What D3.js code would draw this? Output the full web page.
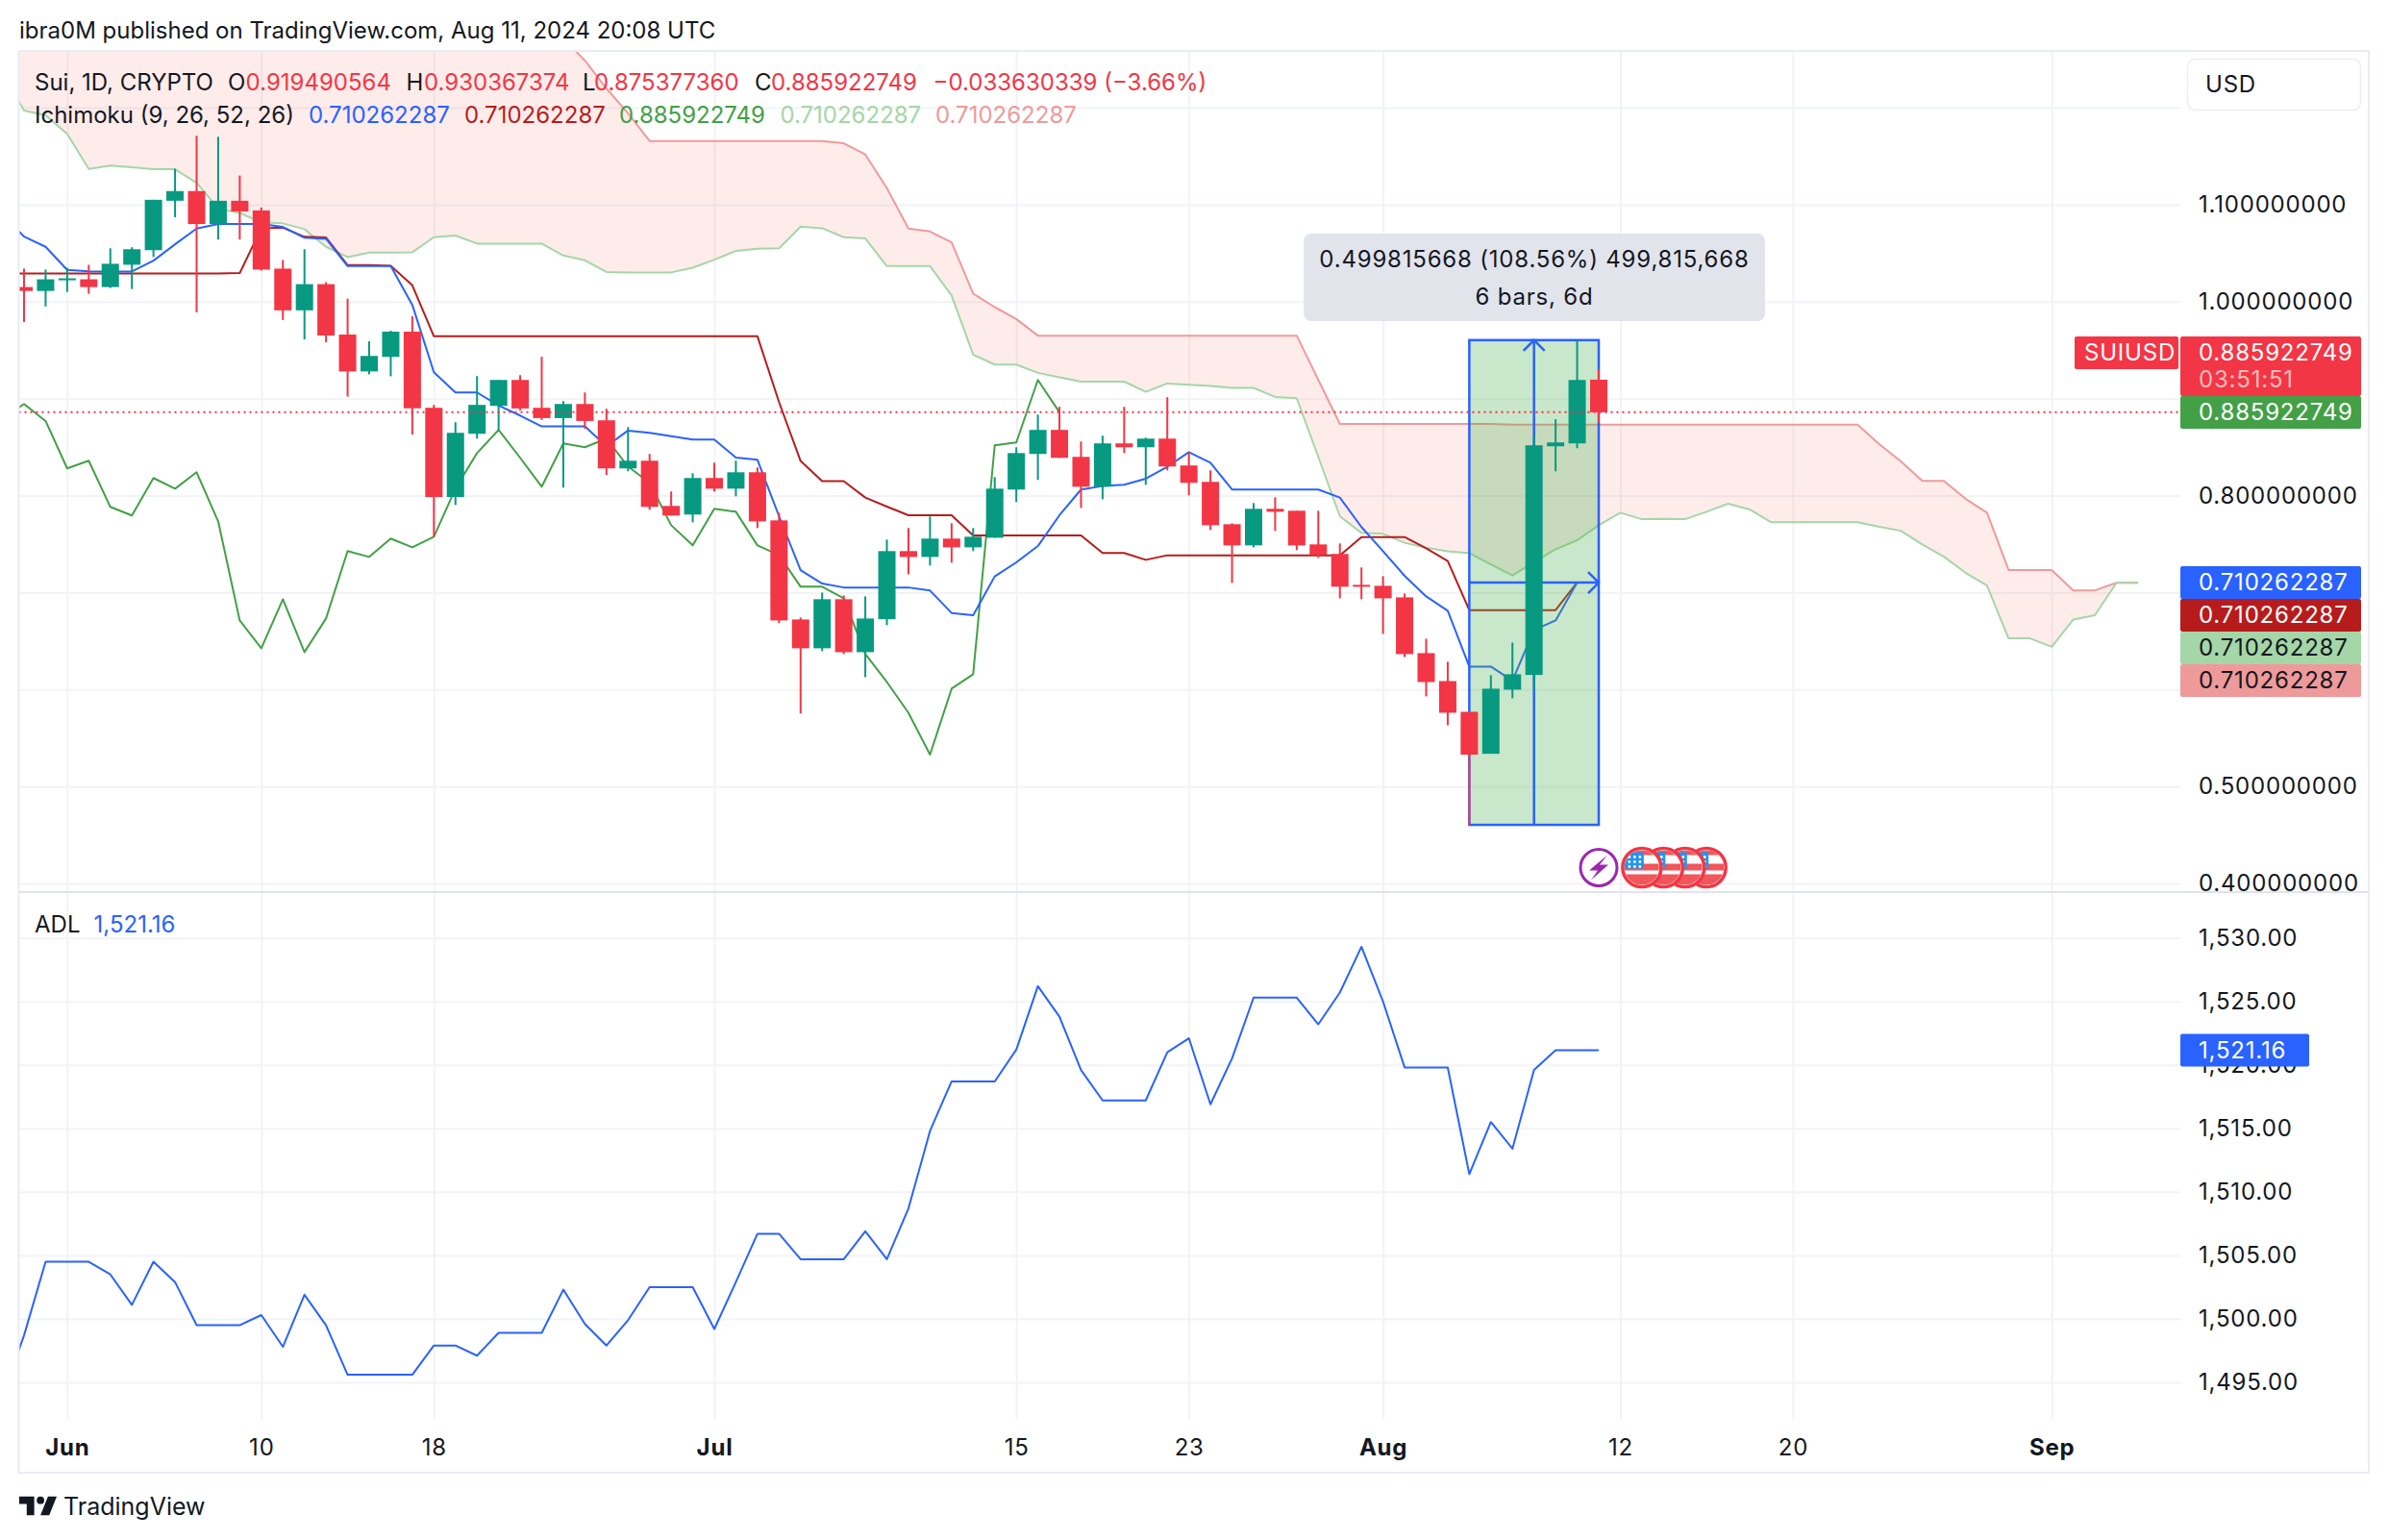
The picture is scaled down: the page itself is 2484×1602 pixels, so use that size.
<!DOCTYPE html>
<html>
<head>
<meta charset="utf-8">
<title>SUIUSD Ichimoku ADL</title>
<script src="https://cdn.jsdelivr.net/npm/d3@7"></script>
<style>
  html, body { margin: 0; padding: 0; background: #fff; }
  svg { display: block; }
  text { font-family: Inter, "Noto Sans", sans-serif; fill: #131722; }
  .axis-label { font-size: 24px; letter-spacing: 0.8px; }
  .legend { font-size: 24px; }
</style>
</head>
<body>
<svg id="chart" width="2484" height="1602"></svg>
<script>
// Candles, one per day, first one is May 30 (bar index 0), last is Aug 11 (bar index 73)
const opens = [1.015,1.011,1.022,1.023,1.015,1.038,1.053,1.104,1.114,1.080,1.104,1.094,1.034,0.991,1.018,0.966,0.928,0.943,0.969,0.8905,
  0.7985,0.8637,0.8925,0.9192,0.8905,0.8799,0.8944,0.8776,0.8280,0.8359,0.7893,0.7804,0.8181,0.8071,0.8240,0.7744,0.6722,0.6425,0.6931,0.6385,
  0.6725,0.7427,0.7367,0.7556,0.7466,0.7565,0.8062,0.8429,0.8677,0.8399,0.8091,0.8538,0.8498,0.8587,0.8310,0.8141,0.7704,0.7486,0.7863,0.7843,
  0.7496,0.7397,0.7079,0.7069,0.6950,0.6375,0.6087,0.5770,0.5337,0.5998,0.6150,0.8508,0.8538,0.9195];
const highs = [1.034,1.033,1.035,1.038,1.055,1.056,1.105,1.137,1.171,1.170,1.130,1.097,1.043,1.054,1.020,1.003,0.959,0.970,0.985,0.8935,
  0.8756,0.9232,0.9192,0.9242,0.9431,0.8974,0.9063,0.8895,0.8706,0.8429,0.8042,0.8230,0.8339,0.8359,0.8290,0.7823,0.6742,0.7000,0.6970,0.6960,
  0.7546,0.7665,0.7784,0.7714,0.7665,0.8190,0.8498,0.8835,0.8915,0.8558,0.8617,0.8915,0.8597,0.9014,0.8448,0.8260,0.7714,0.7923,0.7982,0.7843,
  0.7843,0.7506,0.7258,0.7169,0.6990,0.6524,0.6286,0.5770,0.6147,0.6484,0.8617,0.8786,0.9603,0.9304];
const lows = [0.979,0.995,1.010,1.008,1.014,1.013,1.046,1.087,0.989,1.064,1.064,1.032,0.981,0.961,0.958,0.902,0.925,0.923,0.863,0.7578,
  0.7903,0.8587,0.8677,0.8878,0.8779,0.8081,0.8690,0.8213,0.8250,0.7853,0.7794,0.7724,0.8042,0.7992,0.7665,0.6683,0.5753,0.6395,0.6365,0.6127,
  0.6663,0.7188,0.7278,0.7308,0.7427,0.7565,0.7933,0.8161,0.8389,0.7873,0.7962,0.8438,0.8111,0.8260,0.8002,0.7645,0.7099,0.7466,0.7635,0.7437,
  0.7357,0.6940,0.6931,0.6573,0.6335,0.5929,0.5631,0.4604,0.5337,0.5909,0.5998,0.8250,0.8488,0.8754];
const closes = [1.011,1.023,1.024,1.015,1.039,1.054,1.105,1.114,1.080,1.104,1.093,1.033,0.991,1.018,0.965,0.928,0.944,0.969,0.890,0.7985,
  0.8647,0.8935,0.9192,0.8898,0.8799,0.8944,0.8769,0.8280,0.8359,0.7883,0.7794,0.8181,0.8071,0.8240,0.7734,0.6712,0.6425,0.6931,0.6385,0.6732,
  0.7427,0.7367,0.7556,0.7466,0.7575,0.8071,0.8438,0.8677,0.8389,0.8091,0.8538,0.8498,0.8587,0.8300,0.8131,0.7694,0.7486,0.7863,0.7833,0.7486,
  0.7387,0.7060,0.7060,0.6940,0.6365,0.6077,0.5760,0.5328,0.6008,0.6157,0.8518,0.8548,0.9192,0.8859];

// Ichimoku lines, all start one bar before the candles (bar index -1, May 29)
const tenkan = [1.0889,1.0671,1.0565,1.0327,1.0313,1.0311,1.0311,1.0423,1.0591,1.0753,1.0800,1.0800,1.0800,1.0770,1.0658,1.0648,1.0366,1.0366,1.0366,0.9966,
  0.9272,0.9063,0.9063,0.8928,0.8825,0.8713,0.8713,0.8713,0.8508,0.8670,0.8647,0.8612,0.8577,0.8577,0.8392,0.8369,0.7787,0.7231,0.7092,0.7052,
  0.7052,0.7052,0.7052,0.7020,0.6789,0.6765,0.7166,0.7311,0.7479,0.7797,0.8062,0.8098,0.8111,0.8174,0.8297,0.8448,0.8339,0.8062,0.8062,0.8062,
  0.8062,0.8062,0.7979,0.7675,0.7427,0.7172,0.6960,0.6812,0.6236,0.6236,0.6090,0.6613,0.6712,0.7103,0.7103];
const kijun = [1.0291,1.0291,1.0291,1.0291,1.0291,1.0291,1.0291,1.0291,1.0291,1.0291,1.0291,1.0294,1.0757,1.0763,1.0668,1.0661,1.0376,1.0376,1.0370,1.0168,
  0.9642,0.9642,0.9642,0.9642,0.9642,0.9642,0.9642,0.9642,0.9642,0.9642,0.9642,0.9642,0.9642,0.9642,0.9642,0.9642,0.8964,0.8356,0.8148,0.8148,
  0.7979,0.7886,0.7797,0.7797,0.7797,0.7588,0.7588,0.7588,0.7588,0.7588,0.7588,0.7407,0.7407,0.7337,0.7384,0.7384,0.7384,0.7384,0.7384,0.7384,
  0.7384,0.7384,0.7384,0.7572,0.7572,0.7572,0.7456,0.7324,0.6818,0.6818,0.6818,0.6818,0.6818,0.7103,0.7103];
const chikou = [0.8799,0.8944,0.8769,0.8280,0.8359,0.7883,0.7794,0.8181,0.8071,0.8240,0.7734,0.6712,0.6425,0.6931,0.6385,0.6732,0.7427,0.7367,0.7556,0.7466,
  0.7575,0.8071,0.8438,0.8677,0.8389,0.8091,0.8538,0.8498,0.8587,0.8300,0.8131,0.7694,0.7486,0.7863,0.7833,0.7486,0.7387,0.7060,0.7060,0.6940,
  0.6365,0.6077,0.5760,0.5328,0.6008,0.6157,0.8518,0.8548,0.9192,0.8859];
const spanA = [1.2367,1.1970,1.1920,1.1729,1.1368,1.1402,1.1385,1.1365,1.1365,1.1226,1.0961,1.0912,1.0819,1.0807,1.0747,1.0565,1.0459,1.0505,1.0505,1.0509,
  1.0664,1.0681,1.0598,1.0598,1.0598,1.0598,1.0475,1.0426,1.0306,1.0301,1.0301,1.0301,1.0350,1.0433,1.0522,1.0545,1.0549,1.0773,1.0757,1.0664,
  1.0651,1.0366,1.0366,1.0366,1.0063,0.9453,0.9351,0.9351,0.9265,0.9219,0.9175,0.9175,0.9175,0.9070,0.9156,0.9143,0.9130,0.9110,0.9110,0.9017,
  0.9004,0.8399,0.7787,0.7615,0.7605,0.7513,0.7463,0.7424,0.7407,0.7291,0.7176,0.7314,0.7446,0.7539,0.7694,0.7823,0.7756,0.7760,0.7756,0.7833,
  0.7916,0.7857,0.7724,0.7724,0.7724,0.7724,0.7724,0.7677,0.7637,0.7496,0.7369,0.7204,0.7072,0.6527,0.6527,0.6440,0.6722,0.6766,0.7101,0.7101];
const spanB = [1.2813,1.2813,1.2813,1.2813,1.2813,1.2813,1.2813,1.2813,1.2813,1.2813,1.2813,1.2813,1.2813,1.2813,1.2813,1.2813,1.2813,1.2813,1.2813,1.2813,
  1.2813,1.2813,1.2813,1.2813,1.2813,1.2813,1.2714,1.2486,1.2198,1.1941,1.1656,1.1656,1.1656,1.1656,1.1656,1.1656,1.1656,1.1656,1.1656,1.1633,
  1.1517,1.1170,1.0753,1.0723,1.0611,1.0082,0.9943,0.9820,0.9649,0.9649,0.9649,0.9649,0.9649,0.9649,0.9649,0.9649,0.9649,0.9649,0.9649,0.9649,
  0.9649,0.9192,0.8739,0.8739,0.8739,0.8739,0.8739,0.8739,0.8739,0.8739,0.8730,0.8730,0.8730,0.8730,0.8730,0.8730,0.8730,0.8730,0.8730,0.8730,
  0.8730,0.8730,0.8730,0.8730,0.8730,0.8730,0.8730,0.8531,0.8354,0.8151,0.8151,0.7967,0.7823,0.7232,0.7232,0.7232,0.7022,0.7022,0.7101,0.7101];

// ADL, from bar index -1 as well
const adl = [1493.9,1498.7,1504.5,1504.5,1504.5,1503.5,1501.1,1504.5,1502.9,1499.5,1499.5,1499.5,1500.3,1497.8,1501.9,1499.5,1495.6,1495.6,1495.6,1495.6,
  1497.9,1497.9,1497.1,1498.9,1498.9,1498.9,1502.3,1499.6,1497.9,1499.9,1502.5,1502.5,1502.5,1499.2,1502.9,1506.7,1506.7,1504.7,1504.7,1504.7,
  1506.9,1504.7,1508.7,1514.8,1518.7,1518.7,1518.7,1521.2,1526.2,1523.8,1519.6,1517.2,1517.2,1517.2,1521.0,1522.1,1516.9,1520.5,1525.3,1525.3,
  1525.3,1523.2,1525.7,1529.3,1525.0,1519.8,1519.8,1519.8,1511.4,1515.5,1513.4,1519.6,1521.16,1521.16,1521.16];

const priceTicks = [0.4, 0.5, 0.6, 0.7, 0.8, 0.9, 1.0, 1.1];
const priceGrid = [0.4, 0.5, 0.6, 0.7, 0.8, 0.9, 1.0, 1.1, 1.2];
const adlTicks = [1495, 1500, 1505, 1510, 1515, 1520, 1525, 1530];
const dateTicks = [2, 11, 19, 32, 46, 54, 63, 74, 82, 94];
const dateLabels = ["Jun", "10", "18", "Jul", "15", "23", "Aug", "12", "20", "Sep"];
const monthLabels = ["Jun", "Jul", "Aug", "Sep"];

const lastPrice = 0.885922749, lineValue = 0.710262287, adlLast = 1521.16;
const rangeLow = 0.4604, rangeHigh = 0.9603, rangeFromBar = 67, rangeToBar = 73;
const eventBars = [73, 75, 76, 77, 78];

const RED = "#f23645", GREEN = "#089981", BLUE = "#2962ff", DARK_RED = "#b71c1c", LEAF = "#43a047", LT_GREEN = "#a5d6a7", LT_RED = "#ef9a9a", GRID = "#f2f3f6", BORDER = "#e9ecf2";
const PANE_L = 19.5, PANE_R = 2268, TOP = 54, SEP = 928, BOTTOM = 1476, OUTER_R = 2464, OUTER_B = 1532;

const svg = d3.select("#chart");
const x = d3.scaleLinear().domain([0, 73]).range([25, 1663]);
const y = d3.scaleLinear().domain([0.4, 1.2]).range([919, 112]);
const yAdl = d3.scaleLinear().domain([1495, 1530]).range([1438, 975.7]);

svg.append("rect").attr("width", 2484).attr("height", 1602).attr("fill", "#fff");
const defs = svg.append("defs");
defs.append("clipPath").attr("id", "clip-price").append("rect").attr("x", PANE_L).attr("y", TOP).attr("width", PANE_R - PANE_L).attr("height", SEP - TOP);
defs.append("clipPath").attr("id", "clip-adl").append("rect").attr("x", PANE_L).attr("y", SEP).attr("width", PANE_R - PANE_L).attr("height", BOTTOM - SEP);
defs.append("clipPath").attr("id", "clip-flag").append("circle").attr("r", 18);

// grid, from the axis generators
const gridG = svg.append("g");
gridG.append("g").attr("transform", `translate(0,${BOTTOM})`)
  .call(d3.axisBottom(x).tickValues(dateTicks).tickSize(-(BOTTOM - TOP)).tickFormat(""))
  .call((g) => g.select(".domain").remove())
  .call((g) => g.selectAll("line").attr("stroke", GRID).attr("stroke-width", 2));
gridG.append("g").attr("transform", `translate(${PANE_R},0)`)
  .call(d3.axisLeft(y).tickValues(priceGrid).tickSize(PANE_R - PANE_L).tickFormat(""))
  .call((g) => g.select(".domain").remove())
  .call((g) => g.selectAll("line").attr("stroke", GRID).attr("stroke-width", 2));
gridG.append("g").attr("transform", `translate(${PANE_R},0)`)
  .call(d3.axisLeft(yAdl).tickValues(adlTicks).tickSize(PANE_R - PANE_L).tickFormat(""))
  .call((g) => g.select(".domain").remove())
  .call((g) => g.selectAll("line").attr("stroke", GRID).attr("stroke-width", 2));

// price pane
const price = svg.append("g").attr("clip-path", "url(#clip-price)");
const barOf = (i) => i - 1; // lines start at bar -1
const lineOf = d3.line().x((d, i) => x(barOf(i))).y((d) => y(d));
const area = d3.area().x((d, i) => x(barOf(i))).y0((d) => y(d)).y1((d, i) => y(spanB[i]));

price.append("path").datum(spanA).attr("d", area).attr("fill", "#f44336").attr("fill-opacity", 0.1);
[[spanB, LT_RED], [spanA, LT_GREEN], [chikou, LEAF], [kijun, DARK_RED], [tenkan, BLUE]].forEach(([vals, col]) => {
  price.append("path").datum(vals).attr("d", lineOf).attr("fill", "none").attr("stroke", col).attr("stroke-width", 2).attr("stroke-linejoin", "round");
});

// measure range
const rx0 = x(rangeFromBar), rx1 = x(rangeToBar), ry0 = y(rangeHigh), ry1 = y(rangeLow), rxm = (rx0 + rx1) / 2, rym = y(lineValue);
price.append("rect").attr("x", rx0).attr("y", ry0).attr("width", rx1 - rx0).attr("height", ry1 - ry0)
  .attr("fill", "#4caf50").attr("fill-opacity", 0.3).attr("stroke", BLUE).attr("stroke-width", 2.5);
const arrows = price.append("g").attr("fill", "none").attr("stroke", BLUE).attr("stroke-width", 2.5);
arrows.append("path").attr("d", `M${rxm},${ry1}V${ry0}M${rxm - 11},${ry0 + 11}L${rxm},${ry0}L${rxm + 11},${ry0 + 11}`);
arrows.append("path").attr("d", `M${rx0},${rym}H${rx1}M${rx1 - 11},${rym - 11}L${rx1},${rym}L${rx1 - 11},${rym + 11}`);

// candles
const bars = closes.map((c, i) => ({ i, o: opens[i], h: highs[i], l: lows[i], c }));
const candle = price.append("g").selectAll("g").data(bars).join("g").attr("fill", (d) => d.c >= d.o ? GREEN : RED);
candle.append("rect").attr("x", (d) => x(d.i) - 1).attr("width", 2).attr("y", (d) => y(d.h)).attr("height", (d) => y(d.l) - y(d.h));
candle.append("rect").attr("x", (d) => x(d.i) - 9).attr("width", 18)
  .attr("y", (d) => y(Math.max(d.o, d.c))).attr("height", (d) => Math.max(2, Math.abs(y(d.o) - y(d.c))));

// current price line
svg.append("line").attr("x1", PANE_L).attr("x2", PANE_R - 2).attr("y1", y(lastPrice)).attr("y2", y(lastPrice))
  .attr("stroke", RED).attr("stroke-width", 2).attr("stroke-dasharray", "2,4");

// adl pane
svg.append("g").attr("clip-path", "url(#clip-adl)").append("path").datum(adl)
  .attr("d", d3.line().x((d, i) => x(barOf(i))).y((d) => yAdl(d)))
  .attr("fill", "none").attr("stroke", BLUE).attr("stroke-width", 2).attr("stroke-linejoin", "round");

// events below the candles
const icons = svg.append("g");
const flags = icons.selectAll("g.flag").data(eventBars.slice(1).reverse()).join("g").attr("class", "flag")
  .attr("transform", (d) => `translate(${x(d)},902.5)`);
flags.append("circle").attr("r", 20).attr("fill", "#fff").attr("stroke", RED).attr("stroke-width", 3.5);
const flagIn = flags.append("g").attr("clip-path", "url(#clip-flag)");
[[-18, 5], [-4, 7], [7, 11]].forEach(([yy, h]) => flagIn.append("rect").attr("x", -18).attr("y", yy).attr("width", 36).attr("height", h).attr("fill", "#f0565a"));
flagIn.append("rect").attr("x", -18).attr("y", -16).attr("width", 20).attr("height", 17).attr("fill", "#2196f3");
[-11, -6, -1].forEach((dy) => [-13, -7.5, -2].forEach((dx) => flagIn.append("circle").attr("cx", dx).attr("cy", dy).attr("r", 1.4).attr("fill", "#fff")));
const bolt = icons.append("g").attr("transform", `translate(${x(eventBars[0])},902.5)`);
bolt.append("circle").attr("r", 19).attr("fill", "#fff").attr("stroke", "#9c27b0").attr("stroke-width", 3);
bolt.append("path").attr("d", "M9,-13L-10,3H-1L-8,13L10,-3H1Z").attr("fill", "#9c27b0");

// axes
const fmtPrice = d3.format(".9f");
svg.append("g").attr("transform", "translate(2287,0)")
  .call(d3.axisRight(y).tickValues(priceTicks).tickSize(0).tickPadding(0).tickFormat(fmtPrice))
  .call((g) => g.select(".domain").remove())
  .call((g) => g.selectAll("text").attr("class", "axis-label").attr("font-size", null).attr("font-family", null));
svg.append("g").attr("transform", "translate(2287,0)")
  .call(d3.axisRight(yAdl).tickValues(adlTicks).tickSize(0).tickPadding(0).tickFormat(d3.format(",.2f")))
  .call((g) => g.select(".domain").remove())
  .call((g) => g.selectAll("text").attr("class", "axis-label"));
svg.append("g").attr("transform", `translate(0,${BOTTOM})`)
  .call(d3.axisBottom(x).tickValues(dateTicks).tickSize(0).tickPadding(21).tickFormat((d, i) => dateLabels[i]))
  .call((g) => g.select(".domain").remove())
  .call((g) => g.selectAll("text").attr("class", "axis-label")
    .attr("font-weight", (d, i) => monthLabels.includes(dateLabels[i]) ? 700 : 400));

// frame
const frame = svg.append("g").attr("fill", "none");
frame.append("rect").attr("x", PANE_L).attr("y", TOP - 1).attr("width", OUTER_R - PANE_L).attr("height", OUTER_B - TOP + 1).attr("stroke", BORDER).attr("stroke-width", 2);
frame.append("line").attr("x1", PANE_L).attr("x2", OUTER_R).attr("y1", SEP).attr("y2", SEP).attr("stroke", "#e0e3eb").attr("stroke-width", 2);

// price tags on the axis
function tag(x0, w, y0, h, fill, label, txt, tx) {
  svg.append("rect").attr("x", x0).attr("y", y0).attr("width", w).attr("height", h).attr("rx", 2).attr("fill", fill);
  svg.append("text").attr("class", "axis-label").attr("x", tx).attr("y", y0 + 17).attr("dy", "0.35em").style("fill", txt).text(label);
}
const money = fmtPrice(lineValue), lastTxt = fmtPrice(lastPrice);
tag(2158, 108, 350, 34, RED, "SUIUSD", "#fff", 2168);
tag(2268, 188, 350, 62, RED, lastTxt, "#fff", 2287);
svg.append("text").attr("class", "axis-label").attr("x", 2287).attr("y", 394.5).attr("dy", "0.35em").style("fill", "#fbb").text("03:51:51");
tag(2268, 188, 412, 34, LEAF, lastTxt, "#fff", 2287);
tag(2268, 188, 589, 34, BLUE, money, "#fff", 2287);
tag(2268, 188, 623, 34, DARK_RED, money, "#fff", 2287);
tag(2268, 188, 657, 34, LT_GREEN, money, "#131722", 2287);
tag(2268, 188, 691, 34, LT_RED, money, "#131722", 2287);
tag(2268, 134, 1075.5, 34, BLUE, d3.format(",.2f")(adlLast), "#fff", 2287);

// USD button
svg.append("rect").attr("x", 2275.5).attr("y", 61.5).attr("width", 180).attr("height", 53).attr("rx", 8).attr("fill", "#fff").attr("stroke", "#eceef3").attr("stroke-width", 1.5);
svg.append("text").attr("class", "axis-label").attr("x", 2294).attr("y", 88).attr("dy", "0.35em").text("USD");

// tooltip of the range
svg.append("rect").attr("x", 1356).attr("y", 243).attr("width", 480).attr("height", 91).attr("rx", 8).attr("fill", "#e0e3eb").attr("fill-opacity", 0.95);
svg.append("text").attr("class", "axis-label").attr("x", 1596).attr("y", 270).attr("dy", "0.35em").attr("text-anchor", "middle").text("0.499815668 (108.56%) 499,815,668");
svg.append("text").attr("class", "axis-label").attr("x", 1596).attr("y", 309).attr("dy", "0.35em").attr("text-anchor", "middle").text("6 bars, 6d");

// legend rows
function label(px, py, str, col) {
  svg.append("text").attr("class", "legend").attr("x", px).attr("y", py).attr("dy", "0.35em").style("fill", col || "#131722").text(str);
}
label(20, 31.5, "ibra0M published on TradingView.com, Aug 11, 2024 20:08 UTC");
label(36, 85.5, "Sui, 1D, CRYPTO");
[[237, "O", 255.6, "0.919490564"], [422.4, "H", 441, "0.930367374"], [606, "L", 618, "0.875377360"], [785, "C", 802, "0.885922749"]].forEach(([a, s, b, v]) => {
  label(a, 85.5, s); label(b, 85.5, v, RED);
});
label(970.6, 85.5, "−0.033630339 (−3.66%)", RED);
label(36, 120, "Ichimoku (9, 26, 52, 26)");
label(321, 120, money, BLUE);
label(483, 120, money, DARK_RED);
label(644, 120, lastTxt, LEAF);
label(811.4, 120, money, LT_GREEN);
label(973, 120, money, LT_RED);
label(36, 962, "ADL");
label(97.6, 962, "1,521.16", BLUE);

// logo
svg.append("path").attr("transform", "translate(17.4,1549) scale(1.3)").attr("fill", "#131722")
  .attr("d", "M14 6H2v6h6v9h6V6Zm12 15h-7l6-15h7l-6 15Zm-7-9a3 3 0 1 0 0-6 3 3 0 0 0 0 6Z");
svg.append("text").attr("x", 66).attr("y", 1567).attr("dy", "0.35em").attr("font-size", 25).text("TradingView");
</script>
</body>
</html>
